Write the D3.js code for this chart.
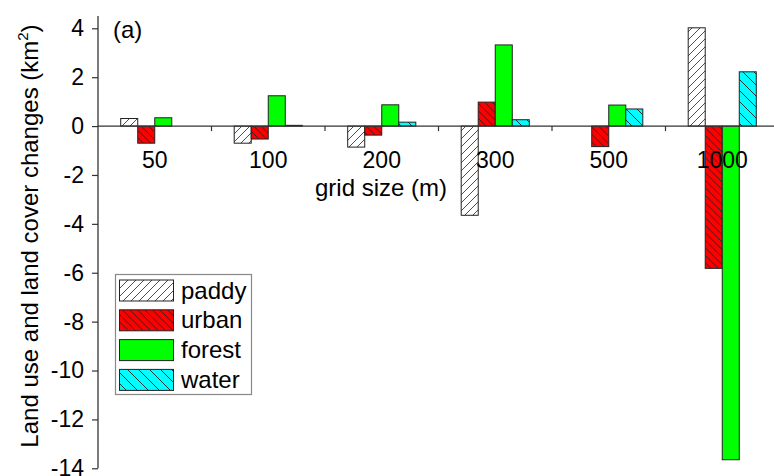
<!DOCTYPE html>
<html>
<head>
<meta charset="utf-8">
<script src="https://cdn.jsdelivr.net/npm/d3@7"></script>
<style>
  body { margin: 0; background: #fff; }
  svg { display: block; font-family: "Liberation Sans", Arial, sans-serif; }
</style>
</head>
<body>
<svg id="chart" width="774" height="476"></svg>
<script>
// Grid sizes (m) and land-cover change per class (km²)
const gridSizes = ["50", "100", "200", "300", "500", "1000"];
const classes = ["paddy", "urban", "forest", "water"];
const paddy  = [0.31, -0.70, -0.86, -3.65, 0.00, 4.02];
const urban  = [-0.70, -0.53, -0.37, 0.98, -0.84, -5.82];
const forest = [0.34, 1.24, 0.87, 3.32, 0.86, -13.65];
const water  = [0.00, 0.03, 0.16, 0.26, 0.70, 2.22];
const yTicks = [4, 2, 0, -2, -4, -6, -8, -10, -12, -14];

const seriesValues = { paddy, urban, forest, water };

const svg = d3.select("#chart");
const W = 774, H = 476;
const plotLeft = 98, plotRight = 779;

const x = d3.scaleBand().domain(gridSizes).range([plotLeft, plotRight]).paddingInner(0).paddingOuter(0);
const y = d3.scaleLinear().domain([-14, 4]).range([468.3, 28.3]);
const groupWidth = x.bandwidth() * 0.6;
const xSub = d3.scaleBand().domain(classes).range([0, groupWidth]);

// Hatch patterns
const defs = svg.append("defs");
function hatch(id, bg, spacing, dir) {
  const p = defs.append("pattern")
    .attr("id", id)
    .attr("patternUnits", "userSpaceOnUse")
    .attr("width", spacing).attr("height", spacing);
  p.append("rect").attr("width", spacing).attr("height", spacing).attr("fill", bg);
  const s = spacing;
  if (dir === "fwd") {
    // "/" lines
    p.append("path").attr("d", `M0,${s} L${s},0 M${-s/2},${s/2} L${s/2},${-s/2} M${s/2},${s*1.5} L${s*1.5},${s/2}`)
      .attr("stroke", "#222").attr("stroke-width", 0.8);
  } else {
    // "\" lines
    p.append("path").attr("d", `M0,0 L${s},${s} M${-s/2},${s/2} L${s/2},${s*1.5} M${s/2},${-s/2} L${s*1.5},${s/2}`)
      .attr("stroke", "#222").attr("stroke-width", 0.9);
  }
}
hatch("hatch-paddy", "#ffffff", 8, "fwd");
hatch("hatch-urban", "#ff0000", 7.5, "back");
hatch("hatch-water", "#00ffff", 11, "back");

const fills = {
  paddy: "url(#hatch-paddy)",
  urban: "url(#hatch-urban)",
  forest: "#00ff00",
  water: "url(#hatch-water)"
};

// Bars
const barData = [];
gridSizes.forEach((g, i) => {
  classes.forEach(c => barData.push({ g, c, v: seriesValues[c][i] }));
});

svg.append("g").selectAll("rect")
  .data(barData)
  .join("rect")
  .attr("x", d => x(d.g) + (x.bandwidth() - groupWidth) / 2 + xSub(d.c))
  .attr("width", xSub.bandwidth())
  .attr("y", d => y(Math.max(0, d.v)))
  .attr("height", d => Math.abs(y(d.v) - y(0)))
  .attr("fill", d => fills[d.c])
  .attr("stroke", "#222")
  .attr("stroke-width", 1);

// Zero line with category boundary ticks
const axisColor = "#333";
svg.append("line")
  .attr("x1", plotLeft).attr("x2", W)
  .attr("y1", y(0)).attr("y2", y(0))
  .attr("stroke", axisColor).attr("stroke-width", 1.3);

svg.append("g").selectAll("line")
  .data(gridSizes.slice(1))
  .join("line")
  .attr("x1", d => x(d)).attr("x2", d => x(d))
  .attr("y1", y(0)).attr("y2", y(0) + 5)
  .attr("stroke", axisColor).attr("stroke-width", 1.2);

// Category labels just below the zero line
svg.append("g").selectAll("text")
  .data(gridSizes)
  .join("text")
  .attr("x", d => x(d) + x.bandwidth() / 2)
  .attr("y", 168)
  .attr("text-anchor", "middle")
  .attr("font-size", 23)
  .attr("fill", "#000")
  .text(d => d);

svg.append("text")
  .attr("x", 381).attr("y", 196)
  .attr("text-anchor", "middle")
  .attr("font-size", 24)
  .text("grid size (m)");

// Y axis
const yAxis = d3.axisLeft(y).tickValues(yTicks).tickSize(6).tickPadding(8).tickFormat(d => String(d));
const yg = svg.append("g").attr("transform", `translate(${plotLeft},0)`).call(yAxis);
yg.select(".domain").attr("d", `M-0,16V${y(-14)}`).attr("stroke", axisColor).attr("stroke-width", 1.3);
yg.selectAll(".tick line").attr("stroke", axisColor).attr("stroke-width", 1.2);
yg.selectAll(".tick text").attr("font-size", 23).attr("fill", "#000")
  .attr("font-family", "Liberation Sans, Arial, sans-serif");

// Y axis title
const yt = svg.append("text")
  .attr("transform", "translate(38,236) rotate(-90)")
  .attr("text-anchor", "middle")
  .attr("font-size", 24);
yt.append("tspan").text("Land use and land cover changes (km");
yt.append("tspan").attr("dy", -10).attr("font-size", 15).text("2");
yt.append("tspan").attr("dy", 10).text(")");

// Panel tag
svg.append("text").attr("x", 113).attr("y", 38).attr("font-size", 24).text("(a)");

// Legend
const lg = svg.append("g");
lg.append("rect")
  .attr("x", 115.5).attr("y", 274.5).attr("width", 136).attr("height", 120)
  .attr("fill", "#fff").attr("stroke", "#888").attr("stroke-width", 1.2);
classes.forEach((c, i) => {
  const ry = 280 + i * 29.8;
  lg.append("rect")
    .attr("x", 119.5).attr("y", ry).attr("width", 54).attr("height", 21)
    .attr("fill", fills[c]).attr("stroke", "#222").attr("stroke-width", 1);
  lg.append("text")
    .attr("x", 181).attr("y", ry + 18.5)
    .attr("font-size", 24)
    .text(c);
});
</script>
</body>
</html>
